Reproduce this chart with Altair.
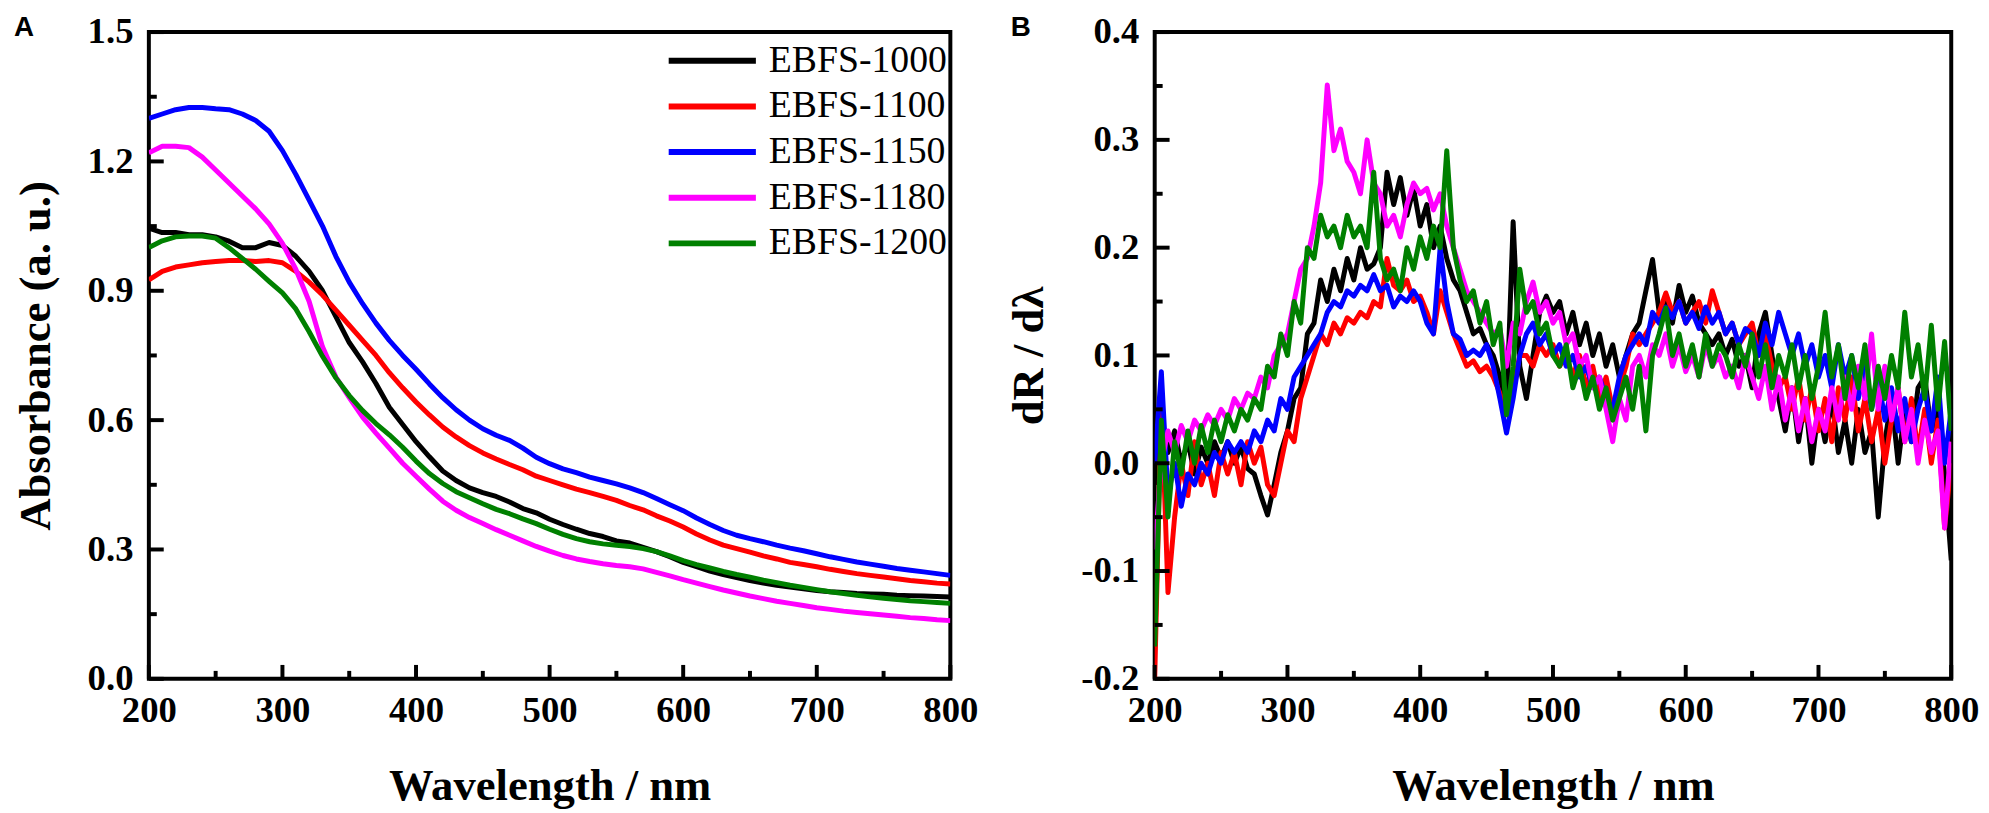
import altair as alt
import pandas as pd

SERIES = ["EBFS-1000", "EBFS-1100", "EBFS-1150", "EBFS-1180", "EBFS-1200"]
COLORS = ["#000000", "#ff0000", "#0000ff", "#ff00ff", "#008000"]

# ---------------- Panel A : absorbance ----------------
A_WL = list(range(200, 801, 10))
A_1000 = [1.045, 1.035, 1.035, 1.03, 1.03, 1.025, 1.015, 1.0, 1.0, 1.012,
          1.005, 0.98, 0.945, 0.9, 0.84, 0.78, 0.735, 0.685, 0.63, 0.59,
          0.55, 0.515, 0.482, 0.46, 0.443, 0.432, 0.423, 0.41, 0.395, 0.385,
          0.37, 0.358, 0.347, 0.337, 0.33, 0.32, 0.315, 0.305, 0.295, 0.283,
          0.27, 0.26, 0.25, 0.242, 0.235, 0.228, 0.222, 0.217, 0.213, 0.209,
          0.205, 0.202, 0.2, 0.198, 0.197, 0.196, 0.194, 0.193, 0.192, 0.191, 0.19]
A_1100 = [0.925, 0.945, 0.955, 0.96, 0.965, 0.968, 0.97, 0.97, 0.968, 0.97,
          0.965, 0.945, 0.92, 0.89, 0.855, 0.82, 0.785, 0.75, 0.71, 0.675,
          0.642, 0.612, 0.584, 0.561, 0.541, 0.524, 0.51, 0.497, 0.485, 0.47,
          0.46, 0.45, 0.44, 0.432, 0.423, 0.414, 0.402, 0.392, 0.378, 0.366,
          0.352, 0.336, 0.322, 0.31, 0.302, 0.294, 0.285, 0.278, 0.27, 0.265,
          0.26, 0.254, 0.249, 0.244, 0.24, 0.236, 0.232, 0.228, 0.225, 0.222, 0.22]
A_1150 = [1.3, 1.31, 1.32, 1.325, 1.325, 1.322, 1.32, 1.31, 1.295, 1.27,
          1.225, 1.17, 1.11, 1.05, 0.98, 0.92, 0.87, 0.825, 0.785, 0.75,
          0.718, 0.684, 0.652, 0.624, 0.6, 0.58, 0.565, 0.553, 0.535, 0.514,
          0.499, 0.487, 0.478, 0.468, 0.46, 0.452, 0.443, 0.432, 0.418, 0.404,
          0.39, 0.373, 0.358, 0.344, 0.333, 0.325, 0.318, 0.31, 0.303, 0.297,
          0.29, 0.283, 0.277, 0.271, 0.266, 0.261, 0.256, 0.252, 0.248, 0.244, 0.24]
A_1180 = [1.22, 1.235, 1.235, 1.232, 1.21, 1.18, 1.15, 1.12, 1.09, 1.055,
          1.01, 0.95, 0.875, 0.77, 0.7, 0.652, 0.607, 0.57, 0.535, 0.5,
          0.47, 0.44, 0.412, 0.391, 0.374, 0.36, 0.346, 0.333, 0.32, 0.307,
          0.296, 0.286, 0.278, 0.272, 0.267, 0.263, 0.26, 0.255, 0.247, 0.239,
          0.23, 0.222, 0.214, 0.206, 0.199, 0.192, 0.186, 0.18, 0.175, 0.17,
          0.165, 0.161, 0.157, 0.154, 0.151, 0.148, 0.145, 0.142, 0.14, 0.137, 0.135]
A_1200 = [1.0, 1.016, 1.025, 1.027, 1.027, 1.022, 1.0, 0.975, 0.95, 0.922,
          0.895, 0.858, 0.805, 0.748, 0.698, 0.657, 0.622, 0.592, 0.566, 0.537,
          0.505, 0.476, 0.453, 0.434, 0.42, 0.406, 0.393, 0.383, 0.371, 0.36,
          0.347, 0.335, 0.325, 0.318, 0.313, 0.31, 0.307, 0.302, 0.295, 0.285,
          0.274, 0.265, 0.257, 0.249, 0.242, 0.236, 0.229, 0.223, 0.217, 0.212,
          0.207, 0.202, 0.198, 0.194, 0.19, 0.187, 0.184, 0.181, 0.179, 0.177, 0.175]

# ---------------- Panel B : first derivative ----------------
B_WL = list(range(200, 801, 5))
B_1000 = [-0.02, 0.04, 0.01, 0.03, 0.0, 0.02, -0.01, 0.015, 0.0, 0.02,
          0.005, 0.02, 0.0, 0.015, -0.005, -0.01, -0.03, -0.048, -0.02, 0.01,
          0.03, 0.06, 0.07, 0.12, 0.13, 0.17, 0.15, 0.18, 0.16, 0.19,
          0.17, 0.2, 0.18, 0.185, 0.2, 0.27, 0.24, 0.265, 0.23, 0.255,
          0.22, 0.24, 0.2, 0.22, 0.19, 0.17, 0.16, 0.14, 0.12, 0.125,
          0.11, 0.1, 0.08, 0.05, 0.224, 0.09, 0.06, 0.1, 0.14, 0.155,
          0.14, 0.15, 0.12, 0.14, 0.11, 0.13, 0.1, 0.12, 0.09, 0.11,
          0.08, 0.1, 0.12, 0.13, 0.16, 0.189, 0.14, 0.15, 0.13, 0.165,
          0.14, 0.155, 0.13, 0.12, 0.11, 0.12, 0.1, 0.115, 0.09, 0.1,
          0.07, 0.12, 0.14, 0.1, 0.06, 0.03, 0.07, 0.02, 0.06, 0.0,
          0.05, 0.02, 0.06, 0.01, 0.04, 0.0, 0.05, 0.01, 0.03, -0.05,
          0.02, 0.06, 0.0, 0.05, 0.02, 0.07, 0.08, 0.03, 0.05, -0.01, -0.09]
B_1100 = [-0.2, 0.06, -0.12, -0.05, 0.0, -0.03, 0.02, -0.02, 0.0, -0.03,
          0.01, -0.01, 0.01, -0.02, 0.02, 0.0, 0.015, -0.02, -0.03, 0.0,
          0.03, 0.02, 0.06, 0.08, 0.1, 0.12, 0.11, 0.13, 0.12, 0.135,
          0.13, 0.14, 0.135, 0.15, 0.145, 0.19, 0.165, 0.16, 0.17, 0.15,
          0.155, 0.14, 0.12, 0.16, 0.14, 0.12, 0.105, 0.09, 0.095, 0.085,
          0.09, 0.08, 0.065, 0.045, 0.07, 0.1, 0.1, 0.09, 0.11, 0.1,
          0.11, 0.09, 0.1, 0.08, 0.1, 0.07, 0.09, 0.06, 0.08, 0.05,
          0.07, 0.09, 0.12, 0.11, 0.12, 0.13, 0.14, 0.158, 0.14, 0.15,
          0.13, 0.14, 0.15, 0.13, 0.16, 0.14, 0.12, 0.13, 0.11, 0.12,
          0.13, 0.1, 0.12, 0.09, 0.07, 0.08, 0.05, 0.08, 0.04, 0.07,
          0.03, 0.06, 0.02, 0.07, 0.04, 0.08, 0.03, 0.06, 0.02, 0.05,
          0.0, 0.04, 0.07, 0.02, 0.06, 0.01, 0.05, 0.0, 0.04, -0.06, 0.0]
B_1150 = [0.0, 0.085, -0.03, 0.0, -0.04, -0.01, -0.02, 0.0, -0.01, 0.01,
          0.0, 0.02, 0.01, 0.02, 0.01, 0.03, 0.02, 0.04, 0.03, 0.06,
          0.05, 0.08, 0.09, 0.1, 0.11, 0.12, 0.14, 0.15, 0.145, 0.16,
          0.155, 0.165, 0.16, 0.175, 0.16, 0.165, 0.145, 0.155, 0.15, 0.16,
          0.15, 0.13, 0.12, 0.2, 0.15, 0.12, 0.115, 0.1, 0.105, 0.1,
          0.11, 0.09, 0.06, 0.028, 0.06, 0.1, 0.12, 0.13, 0.11, 0.12,
          0.1, 0.11, 0.09, 0.1, 0.08, 0.09, 0.07, 0.08, 0.06, 0.05,
          0.08, 0.1, 0.11, 0.12, 0.11, 0.14, 0.13, 0.145, 0.135, 0.15,
          0.13, 0.14, 0.125, 0.145, 0.13, 0.14, 0.12, 0.13, 0.11, 0.125,
          0.12, 0.1, 0.13, 0.11, 0.14, 0.12, 0.1, 0.12, 0.09, 0.11,
          0.08, 0.1, 0.07, 0.11, 0.08, 0.1, 0.06, 0.09, 0.05, 0.08,
          0.04, 0.07, 0.03, 0.06, 0.02, 0.05, 0.07, 0.03, 0.08, 0.0, 0.05]
B_1180 = [-0.08, 0.0, 0.03, 0.01, 0.035, 0.02, 0.04, 0.03, 0.045, 0.035,
          0.05, 0.04, 0.06, 0.05, 0.065, 0.06, 0.08, 0.07, 0.1, 0.11,
          0.12, 0.15, 0.18, 0.19, 0.22, 0.26, 0.351, 0.29, 0.31, 0.28,
          0.27, 0.25, 0.3, 0.26, 0.25, 0.22, 0.23, 0.21, 0.24, 0.26,
          0.25, 0.255, 0.235, 0.25, 0.22, 0.2, 0.18, 0.16, 0.15, 0.14,
          0.13, 0.12, 0.125, 0.09, 0.13, 0.12, 0.15, 0.168, 0.14, 0.15,
          0.13, 0.14, 0.11, 0.12, 0.09, 0.1, 0.07, 0.08, 0.05, 0.02,
          0.06, 0.04, 0.09, 0.1, 0.08, 0.11, 0.1, 0.12, 0.09, 0.11,
          0.085, 0.1, 0.08, 0.11, 0.09, 0.1, 0.08, 0.09, 0.07, 0.1,
          0.08, 0.06, 0.09, 0.05, 0.08, 0.04, 0.07, 0.03, 0.06, 0.02,
          0.05, 0.03, 0.07, 0.04, 0.08, 0.05, 0.09, 0.06, 0.12, 0.05,
          0.09, 0.04, 0.07, 0.02, 0.05, 0.0, 0.04, 0.01, 0.03, -0.06, 0.02]
B_1200 = [-0.17, 0.04, -0.05, 0.02, -0.01, 0.03, 0.0, 0.035, 0.01, 0.04,
          0.02, 0.045, 0.03, 0.05, 0.04, 0.06, 0.05, 0.09, 0.08, 0.12,
          0.1, 0.15, 0.13, 0.2, 0.19, 0.23, 0.21, 0.22, 0.2, 0.23,
          0.21, 0.22, 0.2, 0.27, 0.19, 0.17, 0.18, 0.16, 0.2, 0.18,
          0.21, 0.19, 0.22, 0.2, 0.29, 0.2, 0.17, 0.15, 0.16, 0.13,
          0.15, 0.11, 0.13, 0.045, 0.09, 0.18, 0.14, 0.15, 0.12, 0.13,
          0.1, 0.09, 0.11, 0.07, 0.09, 0.06, 0.08, 0.05, 0.07, 0.04,
          0.06, 0.08, 0.05, 0.09, 0.03, 0.1, 0.12, 0.144, 0.1, 0.12,
          0.09, 0.11, 0.08, 0.12, 0.09, 0.11, 0.1, 0.08, 0.11, 0.09,
          0.12, 0.08, 0.11, 0.07, 0.1, 0.08, 0.11, 0.07, 0.1, 0.06,
          0.09, 0.14, 0.08, 0.11, 0.06, 0.1, 0.07, 0.11, 0.05, 0.09,
          0.06, 0.1, 0.07, 0.14, 0.08, 0.11, 0.06, 0.128, 0.05, 0.113, 0.03]

X_MAJOR = [200, 300, 400, 500, 600, 700, 800]
X_MINOR = [250, 350, 450, 550, 650, 750]
A_Y_MAJOR = [0.0, 0.3, 0.6, 0.9, 1.2, 1.5]
A_Y_MINOR = [0.15, 0.45, 0.75, 1.05, 1.35]
B_Y_MAJOR = [-0.2, -0.1, 0.0, 0.1, 0.2, 0.3, 0.4]
B_Y_MINOR = [-0.15, -0.05, 0.05, 0.15, 0.25, 0.35]

SERIF = "Liberation Serif"
SANS = "Liberation Sans"
H = 652


def panel(wl, vals, ydom, ymaj, ymin, ytitle, letter, W, ytitle_x, letter_dx,
          leg_x, leg_y, label_expr, sw):
    rows = []
    for s, arr in zip(SERIES, vals):
        for w, v in zip(wl, arr):
            rows.append({"wl": w, "val": v, "series": s})
    df = pd.DataFrame(rows)
    xs = alt.Scale(domain=[200, 800], nice=False, zero=False)
    ys = alt.Scale(domain=ydom, nice=False, zero=False)
    xaxis = alt.Axis(values=X_MAJOR, title="Wavelength / nm", grid=False, domain=False,
                     ticks=False, labelFont=SERIF, labelFontWeight="bold", labelFontSize=37,
                     labelColor="black", labelPadding=14, labelFlush=False, labelOverlap=False,
                     titleFont=SERIF, titleFontSize=45, titleFontWeight="bold",
                     titleColor="black", titleBaseline="alphabetic", titleY=122,
                     titleX=W / 2, titleAlign="center")
    yaxis = alt.Axis(values=ymaj, title=ytitle, grid=False, domain=False, ticks=False,
                     labelFont=SERIF, labelFontWeight="bold", labelFontSize=37,
                     labelColor="black", labelPadding=16, labelFlush=False,
                     labelOverlap=False, labelExpr=label_expr,
                     titleFont=SERIF, titleFontSize=45, titleFontWeight="bold",
                     titleColor="black", titleBaseline="alphabetic", titleAngle=270,
                     titleX=ytitle_x, titleY=H / 2, titleAlign="center")
    legend = alt.Legend(title=None, orient="none", legendX=leg_x, legendY=leg_y,
                        symbolType="M-2.93,0H2.93", symbolSize=900, symbolStrokeWidth=6,
                        labelFont=SERIF, labelFontSize=38, labelColor="black",
                        labelOffset=38, labelLimit=400, rowPadding=8, padding=0)
    lines = alt.Chart(df).mark_line(strokeWidth=sw, clip=True, strokeJoin="round").encode(
        x=alt.X("wl:Q", scale=xs, axis=xaxis),
        y=alt.Y("val:Q", scale=ys, axis=yaxis),
        color=alt.Color("series:N", scale=alt.Scale(domain=SERIES, range=COLORS),
                        legend=legend),
    )
    xt1 = alt.Chart(pd.DataFrame({"wl": X_MAJOR})).mark_rule(color="black", strokeWidth=4).encode(
        x=alt.X("wl:Q", scale=xs), y=alt.value(H), y2=alt.value(H - 14))
    xt2 = alt.Chart(pd.DataFrame({"wl": X_MINOR})).mark_rule(color="black", strokeWidth=4).encode(
        x=alt.X("wl:Q", scale=xs), y=alt.value(H), y2=alt.value(H - 8))
    yt1 = alt.Chart(pd.DataFrame({"val": ymaj})).mark_rule(color="black", strokeWidth=4).encode(
        y=alt.Y("val:Q", scale=ys), x=alt.value(0), x2=alt.value(15))
    yt2 = alt.Chart(pd.DataFrame({"val": ymin})).mark_rule(color="black", strokeWidth=4).encode(
        y=alt.Y("val:Q", scale=ys), x=alt.value(0), x2=alt.value(8))
    lab = alt.Chart(pd.DataFrame({"t": [letter]})).mark_text(
        font=SANS, fontSize=28, fontWeight="bold", color="black", align="left",
        baseline="alphabetic").encode(text="t:N", x=alt.value(letter_dx), y=alt.value(4))
    return alt.layer(lines, xt1, xt2, yt1, yt2, lab).properties(width=W, height=H)


A = panel(A_WL, [A_1000, A_1100, A_1150, A_1180, A_1200], [0, 1.5], A_Y_MAJOR, A_Y_MINOR,
          "Absorbance (a. u.)", "A", 808, -100, -136, 549, 10,
          "format(datum.value, '.1f')", 5)
B = panel(B_WL, [B_1000, B_1100, B_1150, B_1180, B_1200], [-0.2, 0.4], B_Y_MAJOR, B_Y_MINOR,
          "dR / d\u03bb", "B", 803, -113, -145, 544, 5,
          "datum.value < 0 ? '-' + format(abs(datum.value), '.1f') : format(datum.value, '.1f')", 5)

chart = alt.hconcat(A, B, spacing=25).properties(
    padding={"left": 4, "top": 0, "right": 0, "bottom": 0}, background="white"
).configure_view(stroke="black", strokeWidth=4)

chart.save("out.html", embed_options={"renderer": "svg", "actions": False})
